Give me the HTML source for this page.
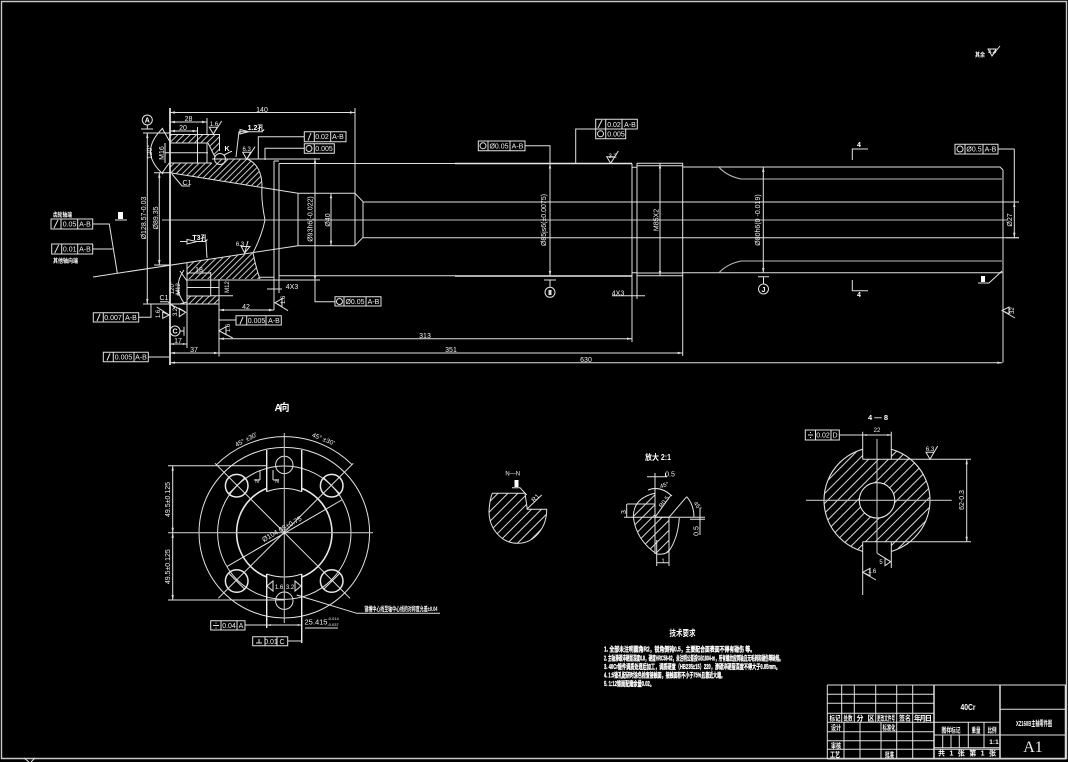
<!DOCTYPE html>
<html lang="zh"><head><meta charset="utf-8"><title>主轴零件图</title>
<style>
html,body{margin:0;padding:0;background:#000;width:1068px;height:762px;overflow:hidden}
svg{display:block}
.l{fill:none;stroke:#e2e2e2;stroke-width:1}
.c{fill:none;stroke:#bcbcbc;stroke-width:1.1}
.b{fill:none;stroke:#e8e8e8;stroke-width:1.7}
.f{fill:#ddd;stroke:none}
text{font-family:"Liberation Sans","Noto Sans CJK SC",sans-serif;font-size:7px;fill:#f2f2f2;text-anchor:middle}
.z{font-weight:700;fill:#fff}
.x{font-size:7px;text-anchor:start;font-weight:700;fill:#fff;stroke:#fff;stroke-width:.3}
</style></head><body>
<svg width="1068" height="762" viewBox="0 0 1068 762" xmlns="http://www.w3.org/2000/svg">
<defs>
<pattern id="h" width="4.4" height="4.4" patternUnits="userSpaceOnUse" patternTransform="rotate(45)"><line x1="1" y1="0" x2="1" y2="4.4" stroke="#d8d8d8" stroke-width="0.9"/></pattern>
<pattern id="h2" width="7" height="7" patternUnits="userSpaceOnUse" patternTransform="rotate(45)"><line x1="1" y1="0" x2="1" y2="7" stroke="#d8d8d8" stroke-width="1"/></pattern>
</defs>
<rect width="1068" height="762" fill="#000"/>
<path class="l" d="M1.5 1.5H1066.5V758.5H1.5Z" style="stroke:#c8c8c8;stroke-width:1.4"/>
<path class="l" d="M24 758L29 762M35 758L31 762"/>

<!-- hatch main view -->
<path fill="url(#h)" d="M170 163H213L220 158.5H247Q262 165 262 187L170 172.7Z"/>
<path fill="url(#h)" d="M170 134.5H219.5V151L215 157L208 143H170Z"/>
<path fill="url(#h)" d="M187 263L254 253Q256 268 260 279H187Z"/>
<path fill="url(#h)" d="M187 296H219V304H187Z"/>

<!-- main outline -->
<path class="c" d="M162 220H1007"/>
<path class="b" d="M170 108V365"/>
<path class="l" d="M170 134.5H219.5V151M170 143H207V163M170 163H212M197.5 143V163M165 152.7H208M208 143L215 157"/>
<path class="l" d="M212 159H320M170 172.7L298 193.3M93 277L298 245.7M298 193.3V245.7M298 193.3H355M298 245.7H355M355 193.3L363 201.7M355 245.7L363 237.3M363 201.7V237.3"/>
<path class="l" d="M355 108V245.7"/>
<path class="l" d="M247 159Q262 165 262 187Q261 200 265 220Q262 235 253 253Q256 268 260 279"/>
<path class="l" d="M187 263V348M187 280H320M260 277.3H274M187 296H210.7V280M187 304H219M187 287.5H219M210.7 272V296M219 279V356.5M210 295.7H233M219 280H232"/>
<path class="l" d="M274 161V310M279 163.5V293M279 163.5H455M279 275.7H455M274 161H279"/>
<path class="l" d="M363 202H1019M363 237.7H1019"/>
<path class="b" style="stroke-width:1.4" d="M455 163.5H632M455 276H632"/>
<path class="l" d="M632 163.5V342M637 163V299M632 167.3H637M632 272.7H637M637 163.3H682.7M637 165.7H682.7M637 275.7H682.7M637 273H682.7M660 163.5V276M682.7 163V356"/>
<path class="l" d="M682.7 167H1000L1003 170V362.5M682.7 272.7H1002.3"/>
<path class="c" d="M719 167.2Q727 176 741 179H1002M719 272.7Q727 264 741 261H1002"/>
<path class="l" d="M763.3 167V273M1014.3 149V238M1006 202H1019M1006 237.7H1019"/>

<!-- dims main -->
<path class="l" d="M170 112.5H355M170 122H207M207 118V134M170 131H197.5M197.5 127V143"/>
<path class="l" d="M143 133H170M143 304H187M147.3 133V304M154 172.7H170M154 265H170M159.3 172.7V265"/>
<path class="l" d="M170 353H682.7M170 362.7H1002.3M219 338.7H632M170 344H187M219 310H274M267 289H282M612 295.7H645"/>
<path class="l" d="M165 143V163M170 142L162 128M170 162L162 173M163 128Q138 152 163 174"/>
<path class="l" d="M187 273H210.7M184 270Q172 287 184 303M187 281L180 271M187 302L180 304M178 285V296"/>
<path class="l" d="M550 163.5V276M315 158.3V301.7H335M331 193.3V245.7M172 174L182 186H190M160 301.7H168L175 308"/>
<!-- arrows -->
<path class="f" d="M170 112.5l5-1.2v2.4ZM355 112.5l-5-1.2v2.4ZM170 122l5-1.2v2.4ZM207 122l-5-1.2v2.4ZM170 131l5-1.2v2.4ZM197.5 131l-5-1.2v2.4ZM219 310l5-1.2v2.4ZM274 310l-5-1.2v2.4ZM632 338.7l-5-1.2v2.4ZM682.7 353l-5-1.2v2.4ZM1002.3 362.7l-5-1.2v2.4ZM170 353l5-1.2v2.4ZM219 353l-5-1.2v2.4ZM170 362.7l5-1.2v2.4ZM219 338.7l5-1.2v2.4ZM170 344l4-1v2ZM187 344l-4-1v2Z"/>
<path class="f" d="M550 163.5l-1.2 5h2.4ZM550 276l-1.2-5h2.4ZM763.3 167l-1.2 5h2.4ZM763.3 273l-1.2-5h2.4ZM660 163.5l-1.2 5h2.4ZM660 276l-1.2-5h2.4ZM1014.3 202l-1.2 5h2.4ZM1014.3 237.7l-1.2-5h2.4ZM315 158.3l-1.2 5h2.4ZM315 281l-1.2-5h2.4ZM331 193.3l-1.2 5h2.4ZM331 245.7l-1.2-5h2.4ZM147.3 133l-1.2 5h2.4ZM147.3 304l-1.2-5h2.4ZM159.3 172.7l-1.2 5h2.4ZM159.3 265l-1.2-5h2.4Z"/>
<!-- dim text -->
<text x="262" y="112">140</text><text x="188.5" y="121">28</text><text x="183" y="130">20</text>
<text x="246" y="309">42</text><text x="292" y="289">4X3</text><text x="618" y="295.5">4X3</text>
<text x="199" y="272">18</text><text x="178" y="343">17</text><text x="194" y="352">37</text>
<text x="425" y="338">313</text><text x="451" y="352">351</text><text x="586" y="362">630</text>
<text x="187" y="185">C1</text><text x="164" y="300">C1</text>
<text transform="translate(146,218) rotate(-90)">Ø128.57-0.03</text>
<text transform="translate(158,218) rotate(-90)">Ø89.35</text>
<text transform="translate(152,152) rotate(-90)">120°</text>
<text transform="translate(164,153) rotate(-90)">M16</text>
<text transform="translate(180,289) rotate(-90)" style="font-size:6px">M12</text>
<text transform="translate(174,288) rotate(-90)" style="font-size:6px">120°</text>
<text transform="translate(229,287) rotate(-90)" style="font-size:6px">M12</text>
<text transform="translate(312.5,219) rotate(-90)">Ø93h6(-0.022)</text>
<text transform="translate(330,220) rotate(-90)">Ø40</text>
<text transform="translate(546,220) rotate(-90)">Ø85js6(±0.0075)</text>
<text transform="translate(658.5,220) rotate(-90)">M85X2</text>
<text transform="translate(760,220) rotate(-90)">Ø80h6(0 -0.019)</text>
<text transform="translate(1012,220) rotate(-90)">Ø27</text>
<text class="z" x="227" y="151">K</text>

<!-- symbols -->
<circle class="l" cx="147.3" cy="120" r="5"/><path class="l" d="M141 129H153M147.3 125V129"/><text class="z" x="147.3" y="122.5">A</text>
<circle class="l" cx="550" cy="292.3" r="5"/><path class="l" d="M544 280H556M550 280V287"/><rect class="f" x="548.5" y="290" width="3" height="5"/>
<circle class="l" cx="763.5" cy="289" r="5"/><path class="l" d="M758 276.7H769M763.5 276.7V284"/><text class="z" x="763.5" y="292">J</text>
<circle class="l" cx="175" cy="331" r="5"/><path class="l" d="M184 326.7V335.7M180 331H184"/><text class="z" x="175" y="333.5">C</text>
<circle class="l" cx="220" cy="159" r="5.5"/><path class="l" d="M224 155L231 151.5H232"/>
<path class="l" d="M852.3 160V149H868M852.3 280V290.7H868"/><text class="z" x="859" y="147">4</text><text class="z" x="859" y="297">4</text>
<rect x="981" y="276" width="4" height="6" fill="#fff"/><path class="l" d="M978 283H989L1002 271"/>
<rect x="118" y="212" width="5" height="7" fill="#fff"/><path class="l" d="M115 220H127"/>
<path class="l" d="M236 157L239 131.7H263M240 129.5V134L249 131.7Z"/><text class="z" x="256" y="130">1.2孔</text>
<path class="l" d="M180 241.5H187M187 239.5V244L197 241.5ZM197 241.5H206L207 258"/>
<text class="z" x="200" y="240">T3孔</text>

<!-- roughness -->
<path class="l" d="M209.3 127.3H217.3L213.3 134ZM213.3 134L221.7 121"/><text x="214" y="126" style="font-size:6px">1.6</text>
<path class="l" d="M242.7 152.3H250.7L246.7 159.3ZM246.7 159.3L255 146.7"/><text x="246.7" y="151" style="font-size:6px">6.3</text>
<path class="l" d="M242 246.5H250L244.7 253L241 246ZM244.7 253L248 241"/><text x="240" y="246" style="font-size:6px">6.3</text>
<path class="l" d="M606.7 156.7H614.7L610.7 163.3ZM610.7 163.3L618.3 151"/><text x="612.7" y="158" style="font-size:6px">3.2</text>
<path class="l" d="M1009 307V314L1002 310.5ZM1002 310.5L1015 318"/><text transform="translate(1014,310.5) rotate(-90)" style="font-size:6px">32</text>
<path class="l" d="M282 298.7V306.7L275 302.7ZM275 302.7L288 310.7"/><text transform="translate(285,300) rotate(-90)" style="font-size:6px">1.6</text>
<path class="l" d="M226 326.7V334.7L219 330.7ZM219 330.7L232.7 338"/><text transform="translate(230,328) rotate(-90)" style="font-size:6px">1.6</text>
<path class="l" d="M162.7 312V318.3L169.3 315ZM169.3 315L156.7 307"/><text transform="translate(160,314) rotate(-90)" style="font-size:6px">1.6</text>
<path class="l" d="M179.3 308.3V316.7L185.7 312.3ZM185.7 312.3L170 304"/><text transform="translate(177,312) rotate(-90)" style="font-size:6px">3.2</text>

<!-- tolerance boxes -->
<path class="l" d="M51 219H92.7V229H51ZM61 219V229M77.7 219V229M92.7 224H109.3L117.3 273"/>
<path class="l" d="M51.7 244H92.7V254H51.7ZM61.7 244V254M77.7 244V254M92.7 249H112.7"/>
<path class="l" d="M93.3 312.7H138.7V322H93.3ZM103.3 312.7V322M123.3 312.7V322M138.7 317.3H151V304"/>
<path class="l" d="M103.3 352.3H148.3V361.7H103.3ZM113.3 352.3V361.7M134 352.3V361.7M148.3 357H169"/>
<path class="l" d="M236 315.7H281.3V325H236ZM246.7 315.7V325M266 315.7V325M236 320H219"/>
<path class="l" d="M304.3 131.7H346V141.7H304.3ZM314.3 131.7V141.7M330.7 131.7V141.7M304.3 136.7H258.3V159"/>
<path class="l" d="M304.3 143.7H334.3V153.3H304.3ZM314.3 143.7V153.3M304.3 148.3H265V160"/>
<path class="l" d="M335 296.7H381V306H335ZM344 296.7V306M366 296.7V306"/>
<path class="l" d="M478.3 141H525V150.7H478.3ZM488 141V150.7M510 141V150.7M525 145.7H550V163.5"/>
<path class="l" d="M595.7 119.3H637.3V129H595.7ZM605.7 119.3V129M622 119.3V129M595.7 129H625.7V138.7H595.7ZM605.7 129V138.7M595.7 129H575.7V163"/>
<path class="l" d="M955 144.3H998V154H955ZM965 144.3V154M983 144.3V154M998 149H1014.5"/>
<path class="l" d="M54 228L58 220M54.7 253L58.7 245M240 324L243 317M97 321L100 314M107 360.5L110 353.5M308 140.5L311 133M598 128L602 120"/>
<circle class="l" cx="309" cy="148.5" r="3"/><circle class="l" cx="339.5" cy="301.5" r="3"/><circle class="l" cx="483" cy="145.8" r="3"/><circle class="l" cx="600.5" cy="133.8" r="3"/><circle class="l" cx="960" cy="149" r="3"/>
<text x="69.5" y="226.5">0.05</text><text x="85" y="226.5">A-B</text>
<text x="69.7" y="251.5">0.01</text><text x="85" y="251.5">A-B</text>
<text x="113" y="320">0.007</text><text x="131" y="320">A-B</text>
<text x="123.5" y="359.5">0.005</text><text x="141" y="359.5">A-B</text>
<text x="256.5" y="323">0.005</text><text x="274" y="323">A-B</text>
<text x="322" y="139">0.02</text><text x="338" y="139">A-B</text>
<text x="324" y="151">0.005</text>
<text x="355" y="304">Ø0.05</text><text x="373.5" y="304">A-B</text>
<text x="499" y="148.5">Ø0.05</text><text x="517.5" y="148.5">A-B</text>
<text x="614" y="127">0.02</text><text x="630" y="127">A-B</text>
<text x="616" y="136.5">0.005</text>
<text x="974" y="151.5">Ø0.5</text><text x="990.5" y="151.5">A-B</text>
<text class="z" x="62.5" y="217" style="font-size:6px" textLength="19" lengthAdjust="spacingAndGlyphs">齿轮轴端</text>
<text class="z" x="65.5" y="263" style="font-size:6px" textLength="25" lengthAdjust="spacingAndGlyphs">其他轴向端</text>
<text class="z" x="980" y="57" style="font-size:6px" textLength="10" lengthAdjust="spacingAndGlyphs">其余</text>
<path class="l" d="M988 49H996L992 56ZM992 56L1000 46"/><text x="992" y="53" style="font-size:6px">3.2</text>

<!-- flange view A -->
<text class="z" x="282" y="411" style="font-size:10px" textLength="15">A向</text>
<circle class="l" cx="284.3" cy="532.7" r="85.3"/>
<circle class="l" cx="284.3" cy="532.7" r="66.7"/>
<circle class="b" style="stroke-width:1.6" cx="284.3" cy="532.7" r="47.7"/>
<path d="M267 478H301.7V491.5H267ZM267 574H301.7V588H267Z" fill="#000"/>
<path class="l" d="M266.7 491.7Q284.3 485 301.7 491.7M266.7 574Q284.3 580 301.7 574"/>
<path d="M266.7 450V491.7M301.7 450V491.7M266.7 574V628M301.7 574V643" stroke="#eee" stroke-width="1.4" fill="none"/>
<circle class="l" cx="284.3" cy="465" r="8.7"/><circle class="l" cx="284.3" cy="600.7" r="8.7"/>
<circle class="b" style="stroke-width:1.5" cx="236.7" cy="485.7" r="11.3"/><circle class="b" style="stroke-width:1.5" cx="331.7" cy="485.7" r="11.3"/><circle class="b" style="stroke-width:1.5" cx="236.7" cy="581" r="11.3"/><circle class="b" style="stroke-width:1.5" cx="331.7" cy="581" r="11.3"/>
<path class="l" d="M229 493.5L244.5 478M324 478L339.5 493.5M229 573.5L244.5 589M324 589L339.5 573.5"/>
<path class="c" d="M168 532.7H373M284.3 433V623"/>
<path class="l" d="M215 463.3L350 598.3M353.3 463.3L218.3 598.3M226.7 566.7L341.7 500"/>
<path class="l" d="M216.4 464.8A96 96 0 0 1 352.2 464.8"/>
<path class="l" d="M168 465.7H266.7M168 600H284M172.7 465.7V600M296.7 595L356.7 613.3H440"/>
<path class="f" d="M172.7 465.7l-1.2 5h2.4ZM172.7 532.7l-1.2-5h2.4ZM172.7 532.7l-1.2 5h2.4ZM172.7 600l-1.2-5h2.4Z"/>
<text transform="translate(170,499.5) rotate(-90)">49.5±0.125</text>
<text transform="translate(170,566.7) rotate(-90)">49.5±0.125</text>
<text transform="translate(247,441.5) rotate(-28)" style="font-size:6.5px">45° ±30'</text>
<text transform="translate(322.5,441) rotate(22)" style="font-size:6.5px">45° ±30'</text>
<text transform="translate(283,531) rotate(-30)">Ø104.05±0.75</text>
<path class="l" d="M260 470V480M254 480H260M273 470V480M273 480H279"/>
<text x="257" y="483" style="font-size:5px">N</text><text x="277" y="483" style="font-size:5px">N</text>
<text class="z" x="401" y="611" style="font-size:6.5px" textLength="73" lengthAdjust="spacingAndGlyphs">键槽中心线至轴中心线的对称度允差±0.04</text>
<path class="l" d="M273 581V591L267 586ZM295 581V591L301 586Z"/><text x="279" y="589" style="font-size:6px">1.6</text><text x="290" y="589" style="font-size:6px">3.2</text>
<path class="l" d="M245 625H301.7M305 628H338"/><path class="f" d="M266.7 625l4-1v2ZM301.7 625l-4-1v2Z"/>
<text x="316" y="624.5" style="font-size:7.5px">25.415</text><text x="333" y="620" style="font-size:4px">-0.014</text><text x="333" y="626" style="font-size:4px">-0.037</text>
<path class="l" d="M210.7 620.7H245V630H210.7ZM221 620.7V630M237 620.7V630M287.7 641H301.7M252.7 636.7H287.7V645.7H252.7ZM265 636.7V645.7M277 636.7V645.7M213 625.5H219M216 622.5V623.5M216 627.5V628.5M256 643H262M259 639V643"/>
<text x="229" y="628">0.04</text><text x="241" y="628">A</text><text x="271" y="644">0.01</text><text x="282" y="644">C</text>

<!-- N-N -->
<text x="512.7" y="475.5" style="font-size:6px">N—N</text>
<rect x="514.5" y="480" width="4" height="7" fill="#fff"/>
<path class="l" d="M512 487.7H520L526.7 495"/>
<path fill="url(#h2)" stroke="#e2e2e2" stroke-width="1" d="M492.3 493.3H525L527.3 509.3H546.7A29 33.5 0 0 1 517.5 543.3A28.5 32 0 0 1 489 511.7Q489.5 500 492.3 493.3Z"/>
<path class="l" d="M526.7 509.3L541.7 495"/>
<text transform="translate(537,499.5) rotate(-45)" style="font-size:6.5px">R1</text>

<!-- detail -->
<text class="z" x="658" y="460" style="font-size:8px" textLength="26" lengthAdjust="spacingAndGlyphs">放大 2:1</text>
<path fill="url(#h2)" stroke="#e2e2e2" stroke-width="1" d="M655 493.3Q633.5 498 633.3 516.7Q636 540 656.7 554Q665 555 669 551V517.3H655Z"/>
<path class="l" d="M669 551Q678 538 679.3 518"/>
<path class="l" d="M655 473V554M665.5 473V477M647 476.7H667M627 504H655M624 517.3H705M626.7 504V517.3M669 517.3V566M656.7 540V566M656.7 562.7H669M669 517.3L686.7 496.7M686.7 496.7Q694 505 694 517.3M700 508V535M690 519.3H705M655 517.3L671 495M648 490Q660 485 672 496"/>
<text x="670" y="476.5">0.5</text><text x="626" y="512" transform="rotate(-90 626 512)">3</text><text x="663" y="563" style="font-size:6px">1</text>
<text transform="translate(698.5,531) rotate(-90)">0.5</text>
<text transform="translate(665.5,503) rotate(-52)" style="font-size:6px">R0.5</text>
<text transform="translate(665,487) rotate(-20)" style="font-size:6px">45°</text>
<text transform="translate(696,507) rotate(55)" style="font-size:6px">45°</text>

<!-- section 4-4 -->
<text class="z" x="878" y="420" style="font-size:7.5px">4 — 8</text>
<circle cx="877" cy="500.3" r="53" fill="url(#h2)" stroke="#e2e2e2" stroke-width="1.1"/>
<rect x="862.7" y="440" width="28.6" height="19.3" fill="#000"/><rect x="862.7" y="541.7" width="28.6" height="19" fill="#000"/>
<circle cx="877" cy="500.3" r="17.7" fill="#000" stroke="#e8e8e8" stroke-width="1.1"/>
<path class="l" d="M862.7 431.7V459.3M891.3 431.7V459.3M862.7 541.7V595M891.3 541.7V568M862.7 459.3H971M862.7 541.7H971M966.7 459.3V541.7"/>
<path class="c" d="M806 500.3H951.7M877 439V553.3"/>
<path class="f" d="M966.7 459.3l-1.2 5h2.4ZM966.7 541.7l-1.2-5h2.4ZM862.7 435l4-1v2ZM891.3 435l-4-1v2Z"/>
<path class="l" d="M839.3 435H891.3M805.3 430H839.3V440H805.3ZM815.5 430V440M831 430V440M808 435H813M810.5 432V433M810.5 437V438"/>
<text x="823" y="437.7">0.02</text><text x="835" y="437.7">D</text>
<text x="877" y="432" style="font-size:6px">22</text>
<text transform="translate(964,500) rotate(-90)">62-0.3</text>
<path class="l" d="M926 452.3H934L930 459.3ZM930 459.3L937.7 446"/><text x="930" y="451" style="font-size:6px">6.3</text>
<path class="l" d="M885 558.3V565.7L890.7 561.7ZM890.7 561.7L877.3 553.3"/><text x="881" y="564" style="font-size:6px">5</text>
<path class="l" d="M870 568.3V575.7L862.7 572.3ZM862.7 572.3L876 580"/><text x="872" y="573" style="font-size:6px">1.6</text>

<!-- tech req -->
<text class="z" x="682.5" y="636" style="font-size:8.5px" textLength="26" lengthAdjust="spacingAndGlyphs">技术要求</text>
<text class="x" x="604" y="651.5" textLength="151" lengthAdjust="spacingAndGlyphs">1. 全部未注明圆角R2，锐角倒钝0.5，主要配合面表面不得有碰伤 等。</text>
<text class="x" x="604" y="660.5" textLength="179" lengthAdjust="spacingAndGlyphs">2. 主轴渗碳淬硬层深度0.8，硬度HRC58-62，未注明公差按GB1804-m，所有螺纹应同轴且无毛刺和碰伤等缺陷。</text>
<text class="x" x="604" y="669" textLength="176" lengthAdjust="spacingAndGlyphs">3. 40Cr锻件调质处理后加工，调质硬度（HB235±15）220，渗碳淬硬层深度不得大于0.05mm。</text>
<text class="x" x="604" y="677.5" textLength="121" lengthAdjust="spacingAndGlyphs">4. 1:5锥孔配研时涂色检查接触面，接触面积不小于75%且靠近大端。</text>
<text class="x" x="604" y="686" textLength="50" lengthAdjust="spacingAndGlyphs">5. 1:12锥面配磨余量0.02。</text>

<!-- title block -->
<path class="l" d="M827.3 685H1066.5M827.3 694.3H934M827.3 703.3H934M827.3 713.3H934M827.3 722.3H1000M827.3 731.7H934M827.3 740.7H934M827.3 749.3H1000M934 735H1000M934 747.7H1000M827.3 759H1066M1000 709.3H1066M1000 735H1066"/>
<path class="l" d="M827.3 685V759M841.7 685V722.3M854.3 685V722.3M875.7 685V722.3M896.7 685V722.3M912.7 685V722.3M844 722.3V759M860 722.3V759M881 722.3V759M896.7 722.3V759M912.7 722.3V759M934 685V759M1000 685V759M968.3 722.3V747.7M984 722.3V747.7M942.7 735V747.7M951 735V747.7M959.3 735V747.7"/>
<path d="M934 685V759M1000 685V759M1065.5 685V759" stroke="#ddd" stroke-width="1.5" fill="none"/>
<text class="z" x="835" y="720.5" textLength="11" lengthAdjust="spacingAndGlyphs">标记</text>
<text class="z" x="848" y="720.5" textLength="9" lengthAdjust="spacingAndGlyphs">处数</text>
<text class="z" x="860" y="720.5">分</text><text class="z" x="871" y="720.5">区</text>
<text class="z" x="886" y="720.5" textLength="18" lengthAdjust="spacingAndGlyphs">更改文件号</text>
<text class="z" x="905" y="720.5" textLength="12" lengthAdjust="spacingAndGlyphs">签名</text>
<text class="z" x="923" y="720.5" textLength="18">年月日</text>
<text class="z" x="836" y="730" textLength="10" lengthAdjust="spacingAndGlyphs">设计</text>
<text class="z" x="889" y="730" textLength="13" lengthAdjust="spacingAndGlyphs">标准化</text>
<text class="z" x="836" y="748" textLength="10" lengthAdjust="spacingAndGlyphs">审核</text>
<text class="z" x="835" y="757" textLength="10" lengthAdjust="spacingAndGlyphs">工艺</text>
<text class="z" x="889.5" y="757" textLength="9" lengthAdjust="spacingAndGlyphs">批准</text>
<text class="z" x="951" y="732.5" textLength="19" lengthAdjust="spacingAndGlyphs">图样标记</text>
<text class="z" x="976" y="732.5" textLength="9" lengthAdjust="spacingAndGlyphs">重量</text>
<text class="z" x="992" y="732.5" textLength="9" lengthAdjust="spacingAndGlyphs">比例</text>
<text class="z" x="994" y="744" style="font-size:6.5px">1:1</text>
<text class="z" x="967" y="755.5" textLength="58">共 1 张 第 1 张</text>
<text class="z" x="968" y="710" style="font-size:8.5px" textLength="15" lengthAdjust="spacingAndGlyphs">40Cr</text>
<text class="z" x="1034" y="726" style="font-size:7.5px" textLength="36" lengthAdjust="spacingAndGlyphs">XZ160B主轴零件图</text>
<text x="1033" y="752" style="font-family:'Liberation Serif',serif;font-size:16px;fill:#eee">A1</text>
</svg>
</body></html>
